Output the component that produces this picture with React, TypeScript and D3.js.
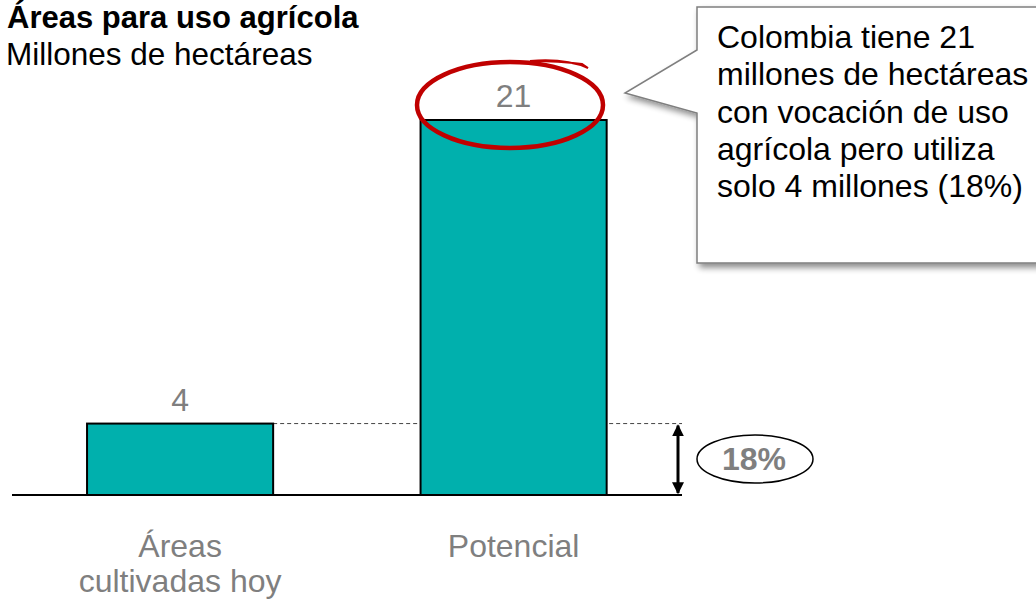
import React from "react";
import * as d3 from "d3";

const categories = ["Áreas\ncultivadas hoy", "Potencial"];
const values = [4, 21];
const valueLabels = ["4", "21"];
const shareLabel = "18%";
const titleText = "Áreas para uso agrícola";
const subtitleText = "Millones de hectáreas";
const calloutLines = [
  "Colombia tiene 21",
  "millones de hectáreas",
  "con vocación de uso",
  "agrícola pero utiliza",
  "solo 4 millones (18%)",
];

const W = 1036;
const H = 600;
const FONT = "'Liberation Sans', Arial, sans-serif";

export default function App() {
  const x = d3
    .scaleBand<string>()
    .domain(categories)
    .range([12, 681.7])
    .paddingInner(0.442)
    .paddingOuter(0.225);
  const y = d3.scaleLinear().domain([0, 21]).range([495, 120]);

  const bw = x.bandwidth();
  const smallTop = y(values[0]);
  const arrowX = 678;

  // red hand-drawn ellipse
  const ecx = 510, ecy = 105, erx = 93, ery = 43;

  return (
    <svg
      width={W}
      height={H}
      style={{ position: "absolute", left: 0, top: 0, background: "#fff" }}
      fontFamily={FONT}
    >
      <defs>
        <filter id="shadow" x="-10%" y="-10%" width="130%" height="130%">
          <feGaussianBlur in="SourceAlpha" stdDeviation="3" />
          <feOffset dx="3" dy="4" result="ob" />
          <feComponentTransfer>
            <feFuncA type="linear" slope="0.45" />
          </feComponentTransfer>
          <feMerge>
            <feMergeNode />
            <feMergeNode in="SourceGraphic" />
          </feMerge>
        </filter>
        <marker id="ah" viewBox="0 0 10 10" refX="9" refY="5" markerWidth="4" markerHeight="4" orient="auto-start-reverse">
          <path d="M0,0 L10,5 L0,10 z" fill="#000" />
        </marker>
      </defs>

      {/* titles */}
      <text x={7} y={28} fontSize={31} fontWeight="bold" fill="#000">{titleText}</text>
      <text x={6} y={65} fontSize={31.5} fill="#000">{subtitleText}</text>

      {/* dashed reference line */}
      <line
        x1={(x(categories[0]) ?? 0) + bw}
        x2={682}
        y1={smallTop}
        y2={smallTop}
        stroke="#444"
        strokeWidth={1}
        strokeDasharray="4,3"
      />

      {/* bars */}
      {categories.map((c, i) => (
        <rect
          key={c}
          x={x(c)}
          y={y(values[i])}
          width={bw}
          height={y(0) - y(values[i])}
          fill="#00b0ad"
          stroke="#000"
          strokeWidth={2}
        />
      ))}

      {/* baseline */}
      <line x1={12} x2={682} y1={y(0)} y2={y(0)} stroke="#000" strokeWidth={2} />

      {/* value labels */}
      {categories.map((c, i) => (
        <text
          key={"v" + c}
          x={(x(c) ?? 0) + bw / 2}
          y={y(values[i]) - 13}
          fontSize={32}
          fill="#7f7f7f"
          textAnchor="middle"
        >
          {valueLabels[i]}
        </text>
      ))}

      {/* category labels */}
      {categories.map((c) =>
        c.split("\n").map((line, j) => (
          <text
            key={c + j}
            x={(x(c) ?? 0) + bw / 2}
            y={557 + j * 35}
            fontSize={32}
            fill="#7f7f7f"
            textAnchor="middle"
          >
            {line}
          </text>
        ))
      )}

      {/* double arrow */}
      <line
        x1={arrowX}
        x2={arrowX}
        y1={smallTop + 2}
        y2={y(0) - 2}
        stroke="#000"
        strokeWidth={3}
        markerStart="url(#ah)"
        markerEnd="url(#ah)"
      />

      {/* 18% ellipse */}
      <ellipse cx={755} cy={459} rx={58} ry={24} fill="#fff" stroke="#000" strokeWidth={1.5} />
      <text x={754} y={470} fontSize={32} fontWeight="bold" fill="#7f7f7f" textAnchor="middle">
        {shareLabel}
      </text>

      {/* red hand-drawn ellipse */}
      <ellipse cx={ecx} cy={ecy} rx={erx} ry={ery} fill="none" stroke="#c00000" strokeWidth={4.5} />
      <path
        d={`M ${ecx + 20} ${ecy - ery - 1} Q ${ecx + 55} ${ecy - ery - 4} ${ecx + 78} ${ecy - ery + 6} L ${ecx + 72} ${ecy - ery + 2} Q ${ecx + 50} ${ecy - ery - 1} ${ecx + 20} ${ecy - ery - 1} Z`}
        fill="#c00000"
        stroke="#c00000"
        strokeWidth={2}
      />

      {/* callout */}
      <path
        d="M 697 7 L 1045 7 L 1045 263 L 697 263 L 697 113 L 625 93 L 697 50 Z"
        fill="#fff"
        stroke="#7f7f7f"
        strokeWidth={1.5}
        filter="url(#shadow)"
      />
      {calloutLines.map((l, i) => (
        <text key={l} x={717} y={48 + i * 37.3} fontSize={32} fill="#000">
          {l}
        </text>
      ))}
    </svg>
  );
}
